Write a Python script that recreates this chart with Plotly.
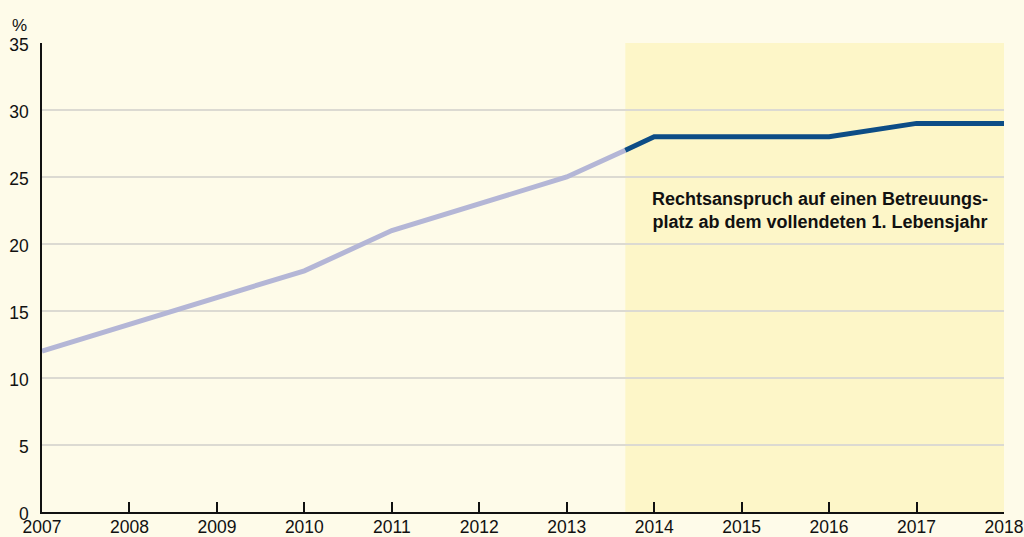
import plotly.graph_objects as go

# Data
years_hist = [2007, 2008, 2009, 2010, 2011, 2012, 2013, 2013.67]
values_hist = [12, 14, 16, 18, 21, 23, 25, 27]
years_new = [2013.67, 2014, 2015, 2016, 2017, 2018]
values_new = [27, 28, 28, 28, 29, 29]
legal_claim_start = 2013.67
x_ticks = [2007, 2008, 2009, 2010, 2011, 2012, 2013, 2014, 2015, 2016, 2017, 2018]
y_ticks = [0, 5, 10, 15, 20, 25, 30, 35]
note_text = "<b>Rechtsanspruch auf einen Betreuungs-<br>platz ab dem vollendeten 1. Lebensjahr</b>"

FONT = "Liberation Sans, Arial, sans-serif"

fig = go.Figure()
fig.add_trace(go.Scatter(x=years_hist, y=values_hist, mode="lines",
                         line=dict(color="#b4b6d6", width=5), hoverinfo="skip"))
fig.add_trace(go.Scatter(x=years_new, y=values_new, mode="lines",
                         line=dict(color="#0d4d86", width=5), hoverinfo="skip"))

fig.add_shape(type="rect", xref="x", yref="paper", x0=legal_claim_start, x1=2018,
              y0=0, y1=1, fillcolor="#fdf6c8", line=dict(width=0), layer="below")

fig.add_annotation(x=2015.9, y=22.5, xref="x", yref="y", text=note_text, showarrow=False,
                   font=dict(family=FONT, size=18, color="#111111"),
                   align="center")
fig.add_annotation(x=-0.014, y=1.0, xref="paper", yref="paper", text="%", showarrow=False,
                   xanchor="right", yanchor="bottom", yshift=6,
                   font=dict(family=FONT, size=17, color="#111111"))

fig.update_layout(
    width=1024, height=537,
    margin=dict(l=42, r=20, t=43, b=25, pad=0),
    paper_bgcolor="#fefbe9", plot_bgcolor="#fefbe9",
    showlegend=False,
    font=dict(family=FONT, size=18, color="#111111"),
)
fig.update_xaxes(range=[2007, 2018], tickvals=x_ticks, ticks="inside", ticklen=10,
                 tickcolor="#111111", tickwidth=1.5, showline=True, linecolor="#111111",
                 linewidth=1.5, showgrid=False, zeroline=False, ticklabelstandoff=-2,
                 tickfont=dict(size=17.5),
                 automargin=False, ticklabeloverflow="allow")
fig.update_yaxes(range=[0, 35], tickvals=y_ticks, showline=True, linecolor="#111111",
                 linewidth=1.5, showgrid=True, gridcolor="#dcdad2", gridwidth=1.5,
                 zeroline=False, ticks="", ticklabelstandoff=8, ticklabelshift=2,
                 tickfont=dict(size=17.5), automargin=False)

fig.write_html("out.html", config={"displayModeBar": False},
               post_script="document.body.style.margin='0';document.body.style.overflow='hidden';")
